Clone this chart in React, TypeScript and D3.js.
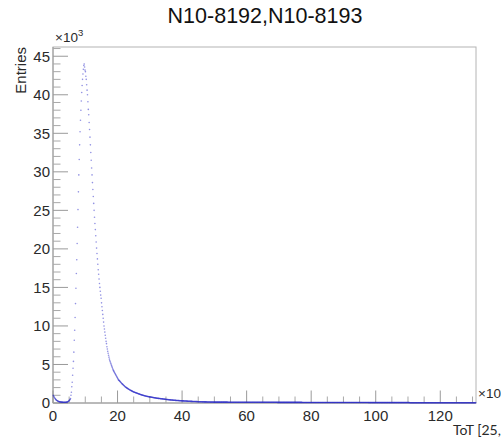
import React from 'react';
import * as d3 from 'd3';

// histogram of 1024 bins, x in units of 10^3, entries in units of 10^3
const binWidth = 0.128;
const xMax = 131.072;
const yMax = 46.2;

const title = 'N10-8192,N10-8193';
const xMajorTicks = [0, 20, 40, 60, 80, 100, 120];
const yMajorTicks = [0, 5, 10, 15, 20, 25, 30, 35, 40, 45];

// bins 0-41 : low bump before the rise
const startBins = [
  1.0, 0.92, 0.82, 0.72, 0.62, 0.54, 0.47, 0.41, 0.36, 0.32,
  0.28, 0.25, 0.22, 0.2, 0.18, 0.16, 0.15, 0.14, 0.13, 0.12,
  0.12, 0.11, 0.11, 0.1, 0.1, 0.1, 0.1, 0.1, 0.1, 0.1,
  0.1, 0.1, 0.11, 0.12, 0.13, 0.15, 0.18, 0.22, 0.28, 0.34,
  0.4, 0.48,
];

// bins 42-75 : rising edge up to the peak
const risingBins = [
  0.57, 1.0, 1.4, 2.1, 2.7, 3.6, 4.5, 5.4, 6.6, 8.15,
  9.45, 11.1, 12.9, 14.9, 16.8, 18.6, 20.7, 22.8, 25.1, 27.4,
  29.6, 31.6, 33.5, 35.2, 36.7, 38.0, 39.2, 40.3, 41.2, 42.0,
  42.7, 43.3, 43.8, 44.0,
];

// bins 76-109 : falling edge
const fallingBins = [
  43.6, 43.2, 43.0, 42.4, 42.0, 41.3, 40.6, 40.0, 39.1, 38.1,
  37.4, 36.4, 35.5, 34.5, 33.5, 32.5, 31.5, 30.5, 29.6, 28.6,
  27.7, 26.8, 25.9, 25.0, 24.1, 23.3, 22.5, 21.7, 20.9, 20.1,
  19.4, 18.7, 18.0, 17.3,
];

// bins 110-312 : tail down to x = 40
const tailBins = [
  16.7, 16.1, 15.5, 15.0,
  14.5, 14.0, 13.6, 13.0, 12.5, 12.0, 11.5, 11.0, 10.5, 10.0,
  9.6, 9.2, 8.8, 8.4, 8.0, 7.7, 7.3, 7.0, 6.7, 6.45,
  6.2, 5.95, 5.7, 5.5, 5.35, 5.2, 5.05, 4.9, 4.75, 4.6,
  4.45, 4.3,
  4.2, 4.1, 4.0, 3.9, 3.8, 3.7, 3.6, 3.5, 3.4, 3.3, 3.2, 3.1, 3.0,
  2.95, 2.9, 2.84, 2.78, 2.72, 2.66, 2.6, 2.54, 2.48, 2.43,
  2.38, 2.33, 2.28, 2.23, 2.18, 2.1,
  2.07, 2.03, 2.0, 1.96, 1.93, 1.89, 1.86, 1.82, 1.79, 1.76,
  1.72, 1.69, 1.66, 1.63, 1.6, 1.57, 1.54, 1.51, 1.48, 1.45,
  1.43, 1.41, 1.39, 1.37, 1.35, 1.33, 1.31, 1.29, 1.27, 1.25,
  1.23, 1.21, 1.19, 1.17, 1.15, 1.13, 1.11, 1.09, 1.07, 1.05,
  1.03, 1.02, 1.0, 0.99, 0.97, 0.96, 0.94, 0.93, 0.91, 0.9,
  0.88, 0.87,
  0.86, 0.85, 0.84, 0.83, 0.82, 0.81, 0.8, 0.79, 0.78, 0.77,
  0.76, 0.75, 0.74, 0.73, 0.72, 0.71, 0.7, 0.69, 0.68, 0.67,
  0.66, 0.65, 0.64, 0.63, 0.62, 0.61, 0.61, 0.6, 0.6, 0.59,
  0.58, 0.58, 0.57,
  0.56, 0.56, 0.55, 0.54, 0.54, 0.53, 0.52, 0.51, 0.51, 0.5,
  0.49, 0.48, 0.48, 0.47, 0.46, 0.46, 0.45, 0.44, 0.44, 0.43,
  0.42, 0.42, 0.41, 0.4, 0.4, 0.39, 0.39, 0.38, 0.38, 0.37,
  0.37, 0.36,
  0.36, 0.35, 0.35, 0.35, 0.34, 0.34, 0.33, 0.33, 0.33, 0.32,
  0.32, 0.31, 0.31, 0.31, 0.3, 0.3, 0.3, 0.29, 0.29, 0.28,
  0.28,
];

// bins 313-1023 : long flat tail
const farTailBins = [
  0.28, 0.27, 0.27, 0.27, 0.26, 0.26, 0.26, 0.25, 0.25, 0.25,
  0.24, 0.24, 0.24, 0.23, 0.23, 0.23, 0.22, 0.22, 0.22, 0.22,
  0.21, 0.21, 0.21, 0.21, 0.2, 0.2, 0.2, 0.2, 0.19, 0.19,
  0.19, 0.19, 0.18, 0.18, 0.18, 0.18, 0.18, 0.17, 0.17, 0.17,
  0.17, 0.17, 0.16, 0.16, 0.16, 0.16, 0.16, 0.15, 0.15, 0.15,
  0.15, 0.15, 0.15, 0.14, 0.14, 0.14, 0.14, 0.14, 0.14, 0.13,
  0.13, 0.13, 0.13, 0.13, 0.13, 0.13, 0.13, 0.12, 0.12, 0.12,
  0.12, 0.12, 0.12, 0.12, 0.12, 0.11, 0.11, 0.11, 0.11, 0.11,
  0.11, 0.11, 0.11, 0.11, 0.11, 0.11, 0.11, 0.11, 0.11, 0.11,
  0.11, 0.11, 0.11, 0.11, 0.11, 0.11, 0.11, 0.11, 0.11, 0.11,
  0.11, 0.11, 0.11, 0.11, 0.11, 0.11, 0.11, 0.11, 0.11, 0.11,
  0.1, 0.1, 0.1, 0.1, 0.1, 0.1, 0.1, 0.1, 0.1, 0.1,
  0.1, 0.1, 0.1, 0.1, 0.1, 0.1, 0.1, 0.1, 0.1, 0.1,
  0.1, 0.1, 0.1, 0.1, 0.1, 0.1, 0.1, 0.1, 0.1, 0.1,
  0.1, 0.1, 0.1, 0.1, 0.1, 0.1, 0.1, 0.1, 0.1, 0.1,
  0.1, 0.1, 0.1, 0.1, 0.1, 0.1, 0.1, 0.1, 0.1, 0.1,
  0.1, 0.1, 0.1, 0.1, 0.1, 0.1, 0.1, 0.1, 0.1, 0.1,
  0.09, 0.09, 0.09, 0.09, 0.09, 0.09, 0.09, 0.09, 0.09, 0.09,
  0.09, 0.09, 0.09, 0.09, 0.09, 0.09, 0.09, 0.09, 0.09, 0.09,
  0.09, 0.09, 0.09, 0.09, 0.09, 0.09, 0.09, 0.09, 0.09, 0.09,
  0.09, 0.09, 0.09, 0.09, 0.09, 0.09, 0.09, 0.09, 0.09, 0.09,
  0.09, 0.09, 0.09, 0.09, 0.09, 0.09, 0.09, 0.09, 0.09, 0.09,
  0.09, 0.09, 0.09, 0.09, 0.09, 0.09, 0.09, 0.09, 0.09, 0.09,
  0.08, 0.08, 0.08, 0.08, 0.08, 0.08, 0.08, 0.08, 0.08, 0.08,
  0.08, 0.08, 0.08, 0.08, 0.08, 0.08, 0.08, 0.08, 0.08, 0.08,
  0.08, 0.08, 0.08, 0.08, 0.08, 0.08, 0.08, 0.08, 0.08, 0.08,
  0.08, 0.08, 0.08, 0.08, 0.08, 0.08, 0.08, 0.08, 0.08, 0.08,
  0.08, 0.08, 0.08, 0.08, 0.08, 0.08, 0.08, 0.08, 0.08, 0.08,
  0.08, 0.08, 0.08, 0.08, 0.08, 0.08, 0.08, 0.08, 0.08, 0.08,
  0.07, 0.07, 0.07, 0.07, 0.07, 0.07, 0.07, 0.07, 0.07, 0.07,
  0.07, 0.07, 0.07, 0.07, 0.07, 0.07, 0.07, 0.07, 0.07, 0.07,
  0.07, 0.07, 0.07, 0.07, 0.07, 0.07, 0.07, 0.07, 0.07, 0.07,
  0.07, 0.07, 0.07, 0.07, 0.07, 0.07, 0.07, 0.07, 0.07, 0.07,
  0.07, 0.07, 0.07, 0.07, 0.07, 0.07, 0.07, 0.07, 0.07, 0.07,
  0.07, 0.07, 0.07, 0.07, 0.07, 0.07, 0.07, 0.07, 0.07, 0.07,
  0.07, 0.07, 0.07, 0.07, 0.07, 0.07, 0.07, 0.07, 0.07, 0.07,
  0.07, 0.07, 0.07, 0.07, 0.07, 0.07, 0.07, 0.07, 0.07, 0.07,
  0.06, 0.06, 0.06, 0.06, 0.06, 0.06, 0.06, 0.06, 0.06, 0.06,
  0.06, 0.06, 0.06, 0.06, 0.06, 0.06, 0.06, 0.06, 0.06, 0.06,
  0.06, 0.06, 0.06, 0.06, 0.06, 0.06, 0.06, 0.06, 0.06, 0.06,
  0.06, 0.06, 0.06, 0.06, 0.06, 0.06, 0.06, 0.06, 0.06, 0.06,
  0.06, 0.06, 0.06, 0.06, 0.06, 0.06, 0.06, 0.06, 0.06, 0.06,
  0.06, 0.06, 0.06, 0.06, 0.06, 0.06, 0.06, 0.06, 0.06, 0.06,
  0.06, 0.06, 0.06, 0.06, 0.06, 0.06, 0.06, 0.06, 0.06, 0.06,
  0.06, 0.06, 0.06, 0.06, 0.06, 0.06, 0.06, 0.06, 0.06, 0.06,
  0.05, 0.05, 0.05, 0.05, 0.05, 0.05, 0.05, 0.05, 0.05, 0.05,
  0.05, 0.05, 0.05, 0.05, 0.05, 0.05, 0.05, 0.05, 0.05, 0.05,
  0.05, 0.05, 0.05, 0.05, 0.05, 0.05, 0.05, 0.05, 0.05, 0.05,
  0.05, 0.05, 0.05, 0.05, 0.05, 0.05, 0.05, 0.05, 0.05, 0.05,
  0.05, 0.05, 0.05, 0.05, 0.05, 0.05, 0.05, 0.05, 0.05, 0.05,
  0.05, 0.05, 0.05, 0.05, 0.05, 0.05, 0.05, 0.05, 0.05, 0.05,
  0.05, 0.05, 0.05, 0.05, 0.05, 0.05, 0.05, 0.05, 0.05, 0.05,
  0.05, 0.05, 0.05, 0.05, 0.05, 0.05, 0.05, 0.05, 0.05, 0.05,
  0.05, 0.05, 0.05, 0.05, 0.05, 0.05, 0.05, 0.05, 0.05, 0.05,
  0.05, 0.05, 0.05, 0.05, 0.05, 0.05, 0.05, 0.05, 0.05, 0.05,
  0.04, 0.04, 0.04, 0.04, 0.04, 0.04, 0.04, 0.04, 0.04, 0.04,
  0.04, 0.04, 0.04, 0.04, 0.04, 0.04, 0.04, 0.04, 0.04, 0.04,
  0.04, 0.04, 0.04, 0.04, 0.04, 0.04, 0.04, 0.04, 0.04, 0.04,
  0.04, 0.04, 0.04, 0.04, 0.04, 0.04, 0.04, 0.04, 0.04, 0.04,
  0.04, 0.04, 0.04, 0.04, 0.04, 0.04, 0.04, 0.04, 0.04, 0.04,
  0.04, 0.04, 0.04, 0.04, 0.04, 0.04, 0.04, 0.04, 0.04, 0.04,
  0.04, 0.04, 0.04, 0.04, 0.04, 0.04, 0.04, 0.04, 0.04, 0.04,
  0.04, 0.04, 0.04, 0.04, 0.04, 0.04, 0.04, 0.04, 0.04, 0.04,
  0.04, 0.04, 0.04, 0.04, 0.04, 0.04, 0.04, 0.04, 0.04, 0.04,
  0.04, 0.04, 0.04, 0.04, 0.04, 0.04, 0.04, 0.04, 0.04, 0.04,
  0.03, 0.03, 0.03, 0.03, 0.03, 0.03, 0.03, 0.03, 0.03, 0.03,
  0.03, 0.03, 0.03, 0.03, 0.03, 0.03, 0.03, 0.03, 0.03, 0.03,
  0.03, 0.03, 0.03, 0.03, 0.03, 0.03, 0.03, 0.03, 0.03, 0.03,
  0.03, 0.03, 0.03, 0.03, 0.03, 0.03, 0.03, 0.03, 0.03, 0.03,
  0.03, 0.03, 0.03, 0.03, 0.03, 0.03, 0.03, 0.03, 0.03, 0.03,
  0.03, 0.03, 0.03, 0.03, 0.03, 0.03, 0.03, 0.03, 0.03, 0.03, 0.03,
];

const entries = [...startBins, ...risingBins, ...fallingBins, ...tailBins, ...farTailBins];

const W = 501;
const H = 438;
const left = 53;
const right = 476;
const top = 47;
const bottom = 403;
const font = '"Liberation Sans", Arial, sans-serif';

export default function App() {
  const x = d3.scaleLinear().domain([0, xMax]).range([left, right]);
  const y = d3.scaleLinear().domain([0, yMax]).range([bottom, top]);

  const xMinor = d3.range(0, xMax, 5).filter(v => v % 20 !== 0);
  const yMinor = d3.range(0, yMax, 1).filter(v => v % 5 !== 0);

  return (
    <svg width={W} height={H} style={{ position: 'absolute', left: 0, top: 0, background: '#fff' }}>
      <text x={265} y={23} textAnchor="middle" fontFamily={font} fontSize={21.5} fill="#111">{title}</text>

      {/* frame */}
      <rect x={left} y={top} width={right - left} height={bottom - top} fill="none" stroke="#b4b4b4" strokeWidth={1} />
      <line x1={left} x2={left} y1={top} y2={bottom} stroke="#9a9a9a" />
      <line x1={left} x2={right} y1={bottom} y2={bottom} stroke="#9a9a9a" />

      {/* y ticks */}
      {yMajorTicks.map(t => (
        <g key={'ym' + t}>
          <line x1={left} x2={left + 15} y1={y(t)} y2={y(t)} stroke="#9a9a9a" />
          <text x={50} y={y(t)} dy="0.36em" textAnchor="end" fontFamily={font} fontSize={15} fill="#2a2a2a">{t}</text>
        </g>
      ))}
      {yMinor.map(t => (
        <line key={'yn' + t} x1={left} x2={left + 7.5} y1={y(t)} y2={y(t)} stroke="#a8a8a8" />
      ))}

      {/* x ticks */}
      {xMajorTicks.map(t => (
        <g key={'xm' + t}>
          <line x1={x(t)} x2={x(t)} y1={bottom} y2={bottom - 12.5} stroke="#9a9a9a" />
          <text x={x(t)} y={421} textAnchor="middle" fontFamily={font} fontSize={15} fill="#2a2a2a">{t}</text>
        </g>
      ))}
      {xMinor.map(t => (
        <line key={'xn' + t} x1={x(t)} x2={x(t)} y1={bottom} y2={bottom - 6.5} stroke="#a8a8a8" />
      ))}

      {/* histogram points */}
      <g fill="#2626c8" fillOpacity={0.5}>
        {entries.map((v, i) => (
          <circle key={i} cx={x((i + 0.5) * binWidth)} cy={y(v)} r={0.8} />
        ))}
      </g>

      {/* axis titles and exponents */}
      <text x={55} y={42} fontFamily={font} fontSize={13.5} fill="#2a2a2a">
        ×10<tspan dy={-6} fontSize={9.5}>3</tspan>
      </text>
      <text transform={`translate(26,${top}) rotate(-90)`} textAnchor="end" fontFamily={font} fontSize={15} fill="#2a2a2a">Entries</text>
      <text x={478} y={398} fontFamily={font} fontSize={13.5} fill="#2a2a2a">
        ×10<tspan dy={-6} fontSize={9.5}>3</tspan>
      </text>
      <text x={453} y={435} fontFamily='Lato, "Liberation Sans", sans-serif' fontSize={14} fill="#2a2a2a">ToT [25,</text>
    </svg>
  );
}
